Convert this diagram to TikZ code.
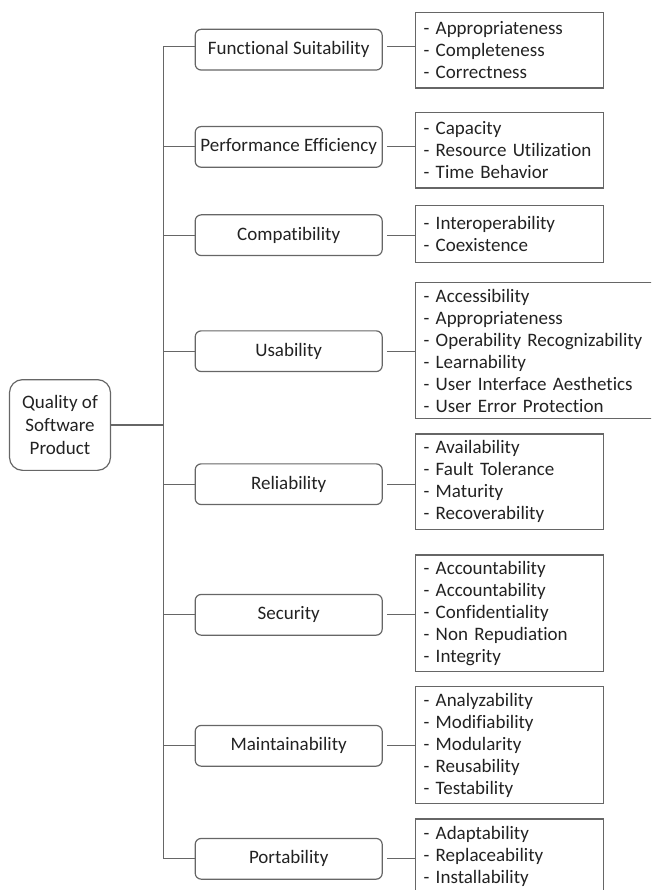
\documentclass[tikz,border=0pt]{standalone}
\usepackage{fontspec}
\setmainfont[Ligatures=NoCommon]{Carlito}
\usepackage{tikz}
\usetikzlibrary{positioning,calc}
\definecolor{edge}{HTML}{666666}
\definecolor{ink}{HTML}{222222}

\begin{document}
\begin{tikzpicture}[x=1pt, y=-1pt,
    every node/.style={text=ink, font=\fontsize{19}{22}\selectfont},
    catbox/.style={draw=edge, line width=1.2pt, rounded corners=6pt, minimum width=187pt, minimum height=40.7pt, inner sep=0pt},
    detbox/.style={draw=edge, line width=1.2pt, anchor=west, align=left, text width=172pt, inner xsep=8pt, inner ysep=0pt},
    link/.style={draw=edge, line width=1.2pt}]
    \useasboundingbox (0,0) rectangle (651,890);
    \clip (0,0) rectangle (651,890);

    % Root node
    \node[draw=edge, line width=1.2pt, rounded corners=13pt, minimum width=101pt, minimum height=90.7pt, align=center, font=\fontsize{19}{23.3}\selectfont] (root) at (60,425) {Quality of\\Software\\Product};
    \coordinate[right=52.5pt of root.east] (hub);

    % Characteristics
    \foreach \n/\y/\t in {fs/49.7/Functional Suitability, pe/146.9/Performance Efficiency, co/235.2/Compatibility, us/351.2/Usability, re/484.2/Reliability, se/614.8/Security, ma/745.8/Maintainability, po/858.8/Portability} {
      \node[catbox] (\n) at (288.7,\y) {\t};
    }

    % Sub-characteristics
    \foreach \n/\y/\h/\t in {fs/50.2/75.7/- Appropriateness\\- Completeness\\- Correctness, pe/150.2/75.7/- Capacity\\- Resource Utilization\\- Time Behavior, co/234/56.6/- Interoperability\\- Coexistence, re/481.7/95.3/- Availability\\- Fault Tolerance\\- Maturity\\- Recoverability, se/613.4/116.7/- Accountability\\- Accountability\\- Confidentiality\\- Non Repudiation\\- Integrity, ma/745/116.6/- Analyzability\\- Modifiability\\- Modularity\\- Reusability\\- Testability, po/856.9/75.7/- Adaptability\\- Replaceability\\- Installability} {
      \node[detbox, minimum height=\h] (\n-d) at (415,\y) {\t};
    }
    \node[detbox, text width=240pt, minimum height=135.6] (us-d) at (415,350.5) {- Accessibility\\- Appropriateness\\- Operability Recognizability\\- Learnability\\- User Interface Aesthetics\\- User Error Protection};

    % Connect root to characteristics
    \draw[link] (root.east) -- (hub);
    \draw[link] ([yshift=3.2pt]fs.west) -| (hub) |- (po.west);
    \foreach \n in {pe,co,us,re,se,ma} {
      \draw[link] (\n.west) -- (\n.west -| hub);
    }

    % Connect characteristics to sub-characteristics
    \draw[link, shorten <=4pt] ([yshift=3.2pt]fs.east) -- ([yshift=3.2pt]fs.east -| fs-d.west);
    \foreach \n in {pe,co,us,re,se,ma,po} {
      \draw[link, shorten <=4pt] (\n.east) -- (\n.east -| \n-d.west);
    }
\end{tikzpicture}
\end{document}
